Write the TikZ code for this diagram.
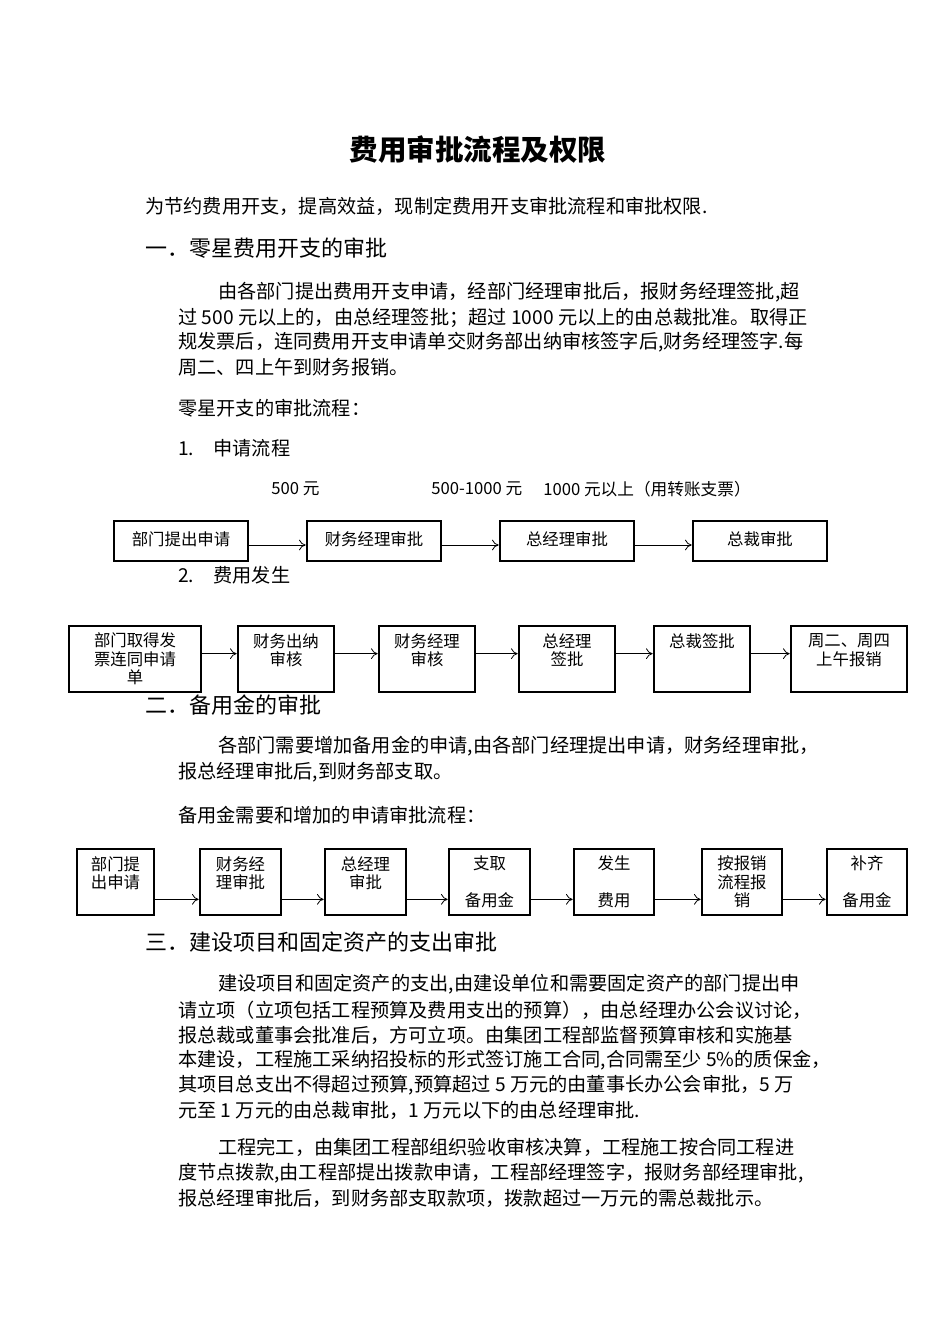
\documentclass[tikz,border=0pt]{standalone}
\usepackage{fontspec}
\setmainfont{Noto Sans CJK SC}
\usetikzlibrary{arrows.meta}
\begin{document}
\begin{tikzpicture}[x=0.75pt,y=-0.75pt,
  txt/.style={anchor=west,inner sep=0pt,font=\fontsize{14.4}{16}\selectfont},
  box/.style={draw,line width=2pt,inner sep=1pt,align=center,font=\fontsize{12.3}{14}\selectfont},
  arr/.style={-{To[length=5pt,width=8pt]},line width=0.6pt}]
\useasboundingbox[fill=white] (0,0) rectangle (950,1344);
\node[anchor=center,font=\fontsize{21.4}{24}\selectfont\bfseries] (title) at (478,150) {费用审批流程及权限};
\node[txt] (p0) at (145,206) {为节约费用开支，提高效益，现制定费用开支审批流程和审批权限.};
\node[txt,font=\fontsize{16.5}{18}\selectfont] (h1) at (145,248) {一．零星费用开支的审批};
\node[txt] (l1) at (218,292) {由各部门提出费用开支申请，经部门经理审批后，报财务经理签批,超};
\node[txt] (l2) at (178,318) {过 500 元以上的，由总经理签批；超过 1000 元以上的由总裁批准。取得正};
\node[txt] (l3) at (178,342) {规发票后，连同费用开支申请单交财务部出纳审核签字后,财务经理签字.每};
\node[txt] (l4) at (178,367) {周二、四上午到财务报销。};
\node[txt] (l5) at (178,408) {零星开支的审批流程：};
\node[txt] (l6) at (178,448) {1.\quad 申请流程};
\node[txt,font=\fontsize{12.5}{13}\selectfont] (a1) at (271,489) {500 元};
\node[txt,font=\fontsize{12.5}{13}\selectfont] (a2) at (431,489) {500-1000 元};
\node[txt,font=\fontsize{12.5}{13}\selectfont] (a3) at (543,489) {1000 元以上（用转账支票）};
\foreach \n/\x/\t in {f1/181/部门提出申请,f2/374/财务经理审批,f3/567/总经理审批,f4/760/总裁审批}
  \node[box,minimum width=134*0.75pt,minimum height=40*0.75pt] (\n) at (\x,541) {\raisebox{3pt}{\t}};
\foreach \a/\b in {f1/f2,f2/f3,f3/f4} \draw[arr] (\a.east) ++(0,4) -- ([yshift=-3pt]\b.west);
\node[txt] (l7) at (178,575) {2.\quad 费用发生};
\node[box,minimum width=132*0.75pt,minimum height=66*0.75pt] (g1) at (135,659) {部门取得发\\票连同申请\\单};
\node[box,minimum width=96*0.75pt,minimum height=66*0.75pt] (g2) at (286,659) {财务出纳\\审核\\~};
\node[box,minimum width=96*0.75pt,minimum height=66*0.75pt] (g3) at (427,659) {财务经理\\审核\\~};
\node[box,minimum width=96*0.75pt,minimum height=66*0.75pt] (g4) at (567,659) {总经理\\签批\\~};
\node[box,minimum width=96*0.75pt,minimum height=66*0.75pt] (g5) at (702,659) {总裁签批\\~\\~};
\node[box,minimum width=116*0.75pt,minimum height=66*0.75pt] (g6) at (849,659) {周二、周四\\上午报销\\~};
\foreach \a/\b in {g1/g2,g2/g3,g3/g4,g4/g5,g5/g6} \draw[arr] ([yshift=4pt]\a.east) -- ([yshift=4pt]\b.west);
\node[txt,font=\fontsize{16.5}{18}\selectfont] (h2) at (145,705) {二．备用金的审批};
\node[txt] (m1) at (218,746) {各部门需要增加备用金的申请,由各部门经理提出申请，财务经理审批，};
\node[txt] (m2) at (178,772) {报总经理审批后,到财务部支取。};
\node[txt] (m3) at (178,815) {备用金需要和增加的申请审批流程：};
\foreach \n/\x/\w/\t in {k1/115.5/77/部门提\\出申请\\~,k2/240.5/81/财务经\\理审批\\~,k3/365.5/81/总经理\\审批\\~,k4/489.5/81/支取\\~\\备用金,k5/614/80/发生\\~\\费用,k6/742/80/按报销\\流程报\\销,k7/867/80/补齐\\~\\备用金}
  \node[box,minimum width=\w*0.75pt,minimum height=66*0.75pt] (\n) at (\x,882) {\t};
\foreach \a/\b in {k1/k2,k2/k3,k3/k4,k4/k5,k5/k6,k6/k7} \draw[arr] ([yshift=-13pt]\a.east) -- ([yshift=-13pt]\b.west);
\node[txt,font=\fontsize{16.5}{18}\selectfont] (h3) at (145,942) {三．建设项目和固定资产的支出审批};
\node[txt] (n1) at (218,984) {建设项目和固定资产的支出,由建设单位和需要固定资产的部门提出申};
\node[txt] (n2) at (178,1010) {请立项（立项包括工程预算及费用支出的预算），由总经理办公会议讨论，};
\node[txt] (n3) at (178,1035) {报总裁或董事会批准后，方可立项。由集团工程部监督预算审核和实施基};
\node[txt] (n4) at (178,1060) {本建设，工程施工采纳招投标的形式签订施工合同,合同需至少 5\%的质保金，};
\node[txt] (n5) at (178,1085) {其项目总支出不得超过预算,预算超过 5 万元的由董事长办公会审批，5 万};
\node[txt] (n6) at (178,1110) {元至 1 万元的由总裁审批，1 万元以下的由总经理审批.};
\node[txt] (o1) at (218,1147) {工程完工，由集团工程部组织验收审核决算，工程施工按合同工程进};
\node[txt] (o2) at (178,1173) {度节点拨款,由工程部提出拨款申请，工程部经理签字，报财务部经理审批,};
\node[txt] (o3) at (178,1198) {报总经理审批后，到财务部支取款项，拨款超过一万元的需总裁批示。};
\end{tikzpicture}
\end{document}
